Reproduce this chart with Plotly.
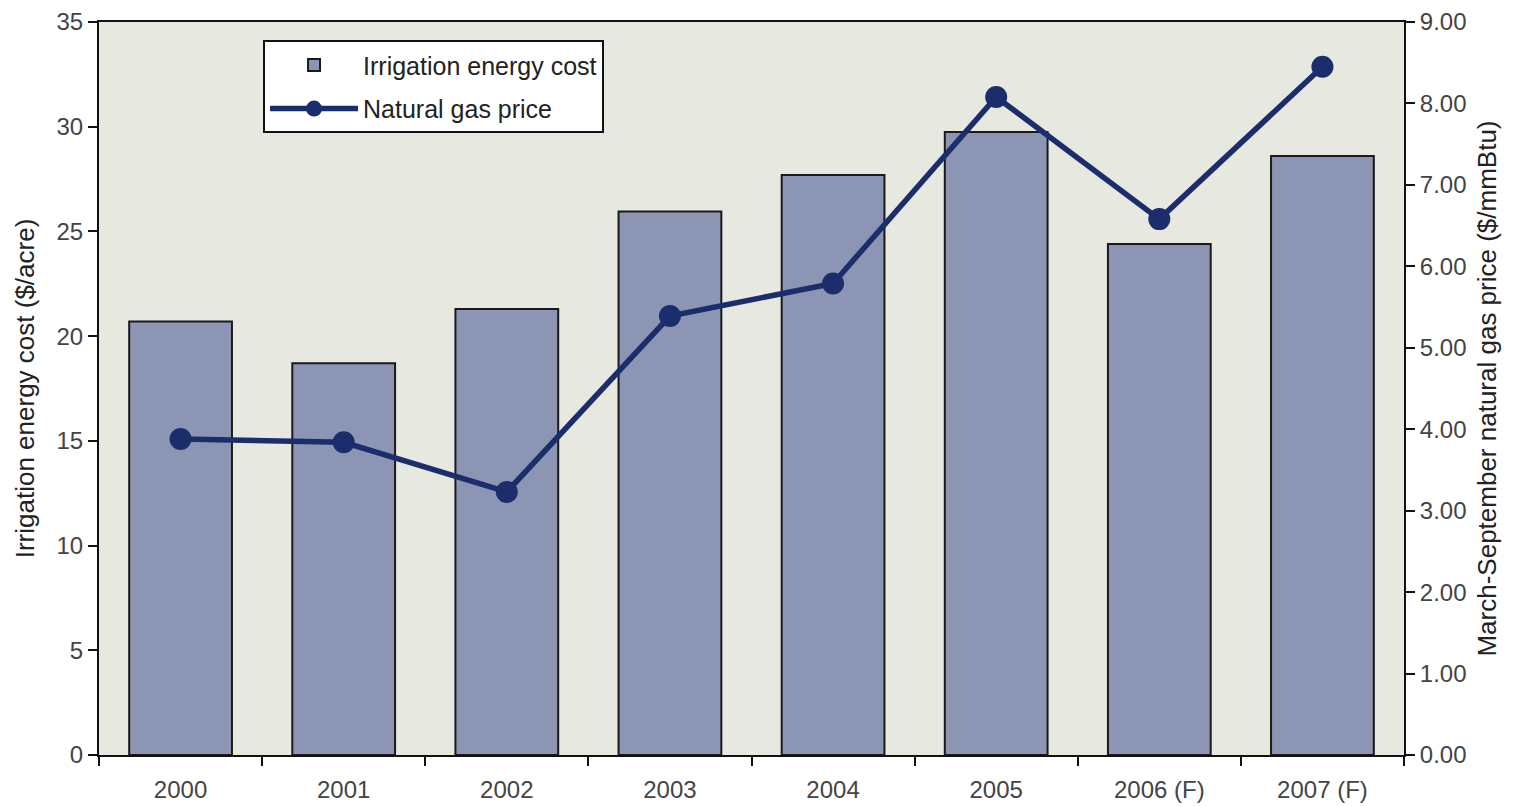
import plotly.graph_objects as go

years = ["2000", "2001", "2002", "2003", "2004", "2005", "2006 (F)", "2007 (F)"]
energy_cost = [20.7, 18.7, 21.3, 25.95, 27.7, 29.75, 24.4, 28.6]
gas_price = [3.88, 3.84, 3.23, 5.39, 5.79, 8.08, 6.58, 8.45]
left_ticks = [0, 5, 10, 15, 20, 25, 30, 35]
right_ticks = [0, 1, 2, 3, 4, 5, 6, 7, 8, 9]

FAM = "Liberation Sans, Arial, sans-serif"
tickfont = dict(family=FAM, size=24, color="#444444")
titlefont = dict(family=FAM, size=26, color="#222222")

fig = go.Figure()
fig.add_trace(go.Bar(
    x=years, y=energy_cost, name="Irrigation energy cost",
    marker=dict(color="#8C95B3", line=dict(color="#1a1a1a", width=2)),
    yaxis="y", legendgroup="a",
))
fig.add_trace(go.Scatter(
    x=years, y=gas_price, name="Natural gas price", mode="lines+markers",
    line=dict(color="#1B2D6B", width=5.5),
    marker=dict(color="#1B2D6B", size=22),
    yaxis="y2", legendgroup="b",
))

# page body has an 8px margin, so the figure is offset by 8px on the top and left
fig.update_layout(
    width=1506, height=798,
    margin=dict(l=91, r=110, t=14, b=51, autoexpand=False),
    paper_bgcolor="white", plot_bgcolor="#E7E8E0",
    font=tickfont,
    bargap=0.37,
    showlegend=True,
    legend=dict(
        x=0.1257, y=0.975, xanchor="left", yanchor="top",
        bgcolor="white", bordercolor="#111111", borderwidth=2,
        font=dict(family=FAM, size=25, color="#222222"),
        itemwidth=88, tracegroupgap=8,
    ),
    xaxis=dict(
        showline=True, linecolor="#111111", linewidth=2, mirror=True,
        ticks="outside", tickson="boundaries", ticklen=9, tickwidth=2, tickcolor="#111111",
        showgrid=False, tickfont=tickfont, automargin=False, ticklabelstandoff=12,
    ),
    yaxis=dict(
        range=[0, 35], tickvals=left_ticks,
        showline=True, linecolor="#111111", linewidth=2,
        ticks="outside", ticklen=9, tickwidth=2, tickcolor="#111111",
        showgrid=False, zeroline=False, tickfont=tickfont, automargin=False,
        title=dict(text="Irrigation energy cost ($/acre)", font=titlefont, standoff=14),
    ),
    yaxis2=dict(
        range=[0, 9], tickvals=right_ticks, tickformat=".2f",
        overlaying="y", side="right",
        showline=True, linecolor="#111111", linewidth=2,
        ticks="outside", ticklen=9, tickwidth=2, tickcolor="#111111",
        showgrid=False, zeroline=False, tickfont=tickfont, automargin=False,
        title=dict(text="March-September natural gas price ($/mmBtu)", font=titlefont, standoff=12),
    ),
)

fig.write_html("out.html")
